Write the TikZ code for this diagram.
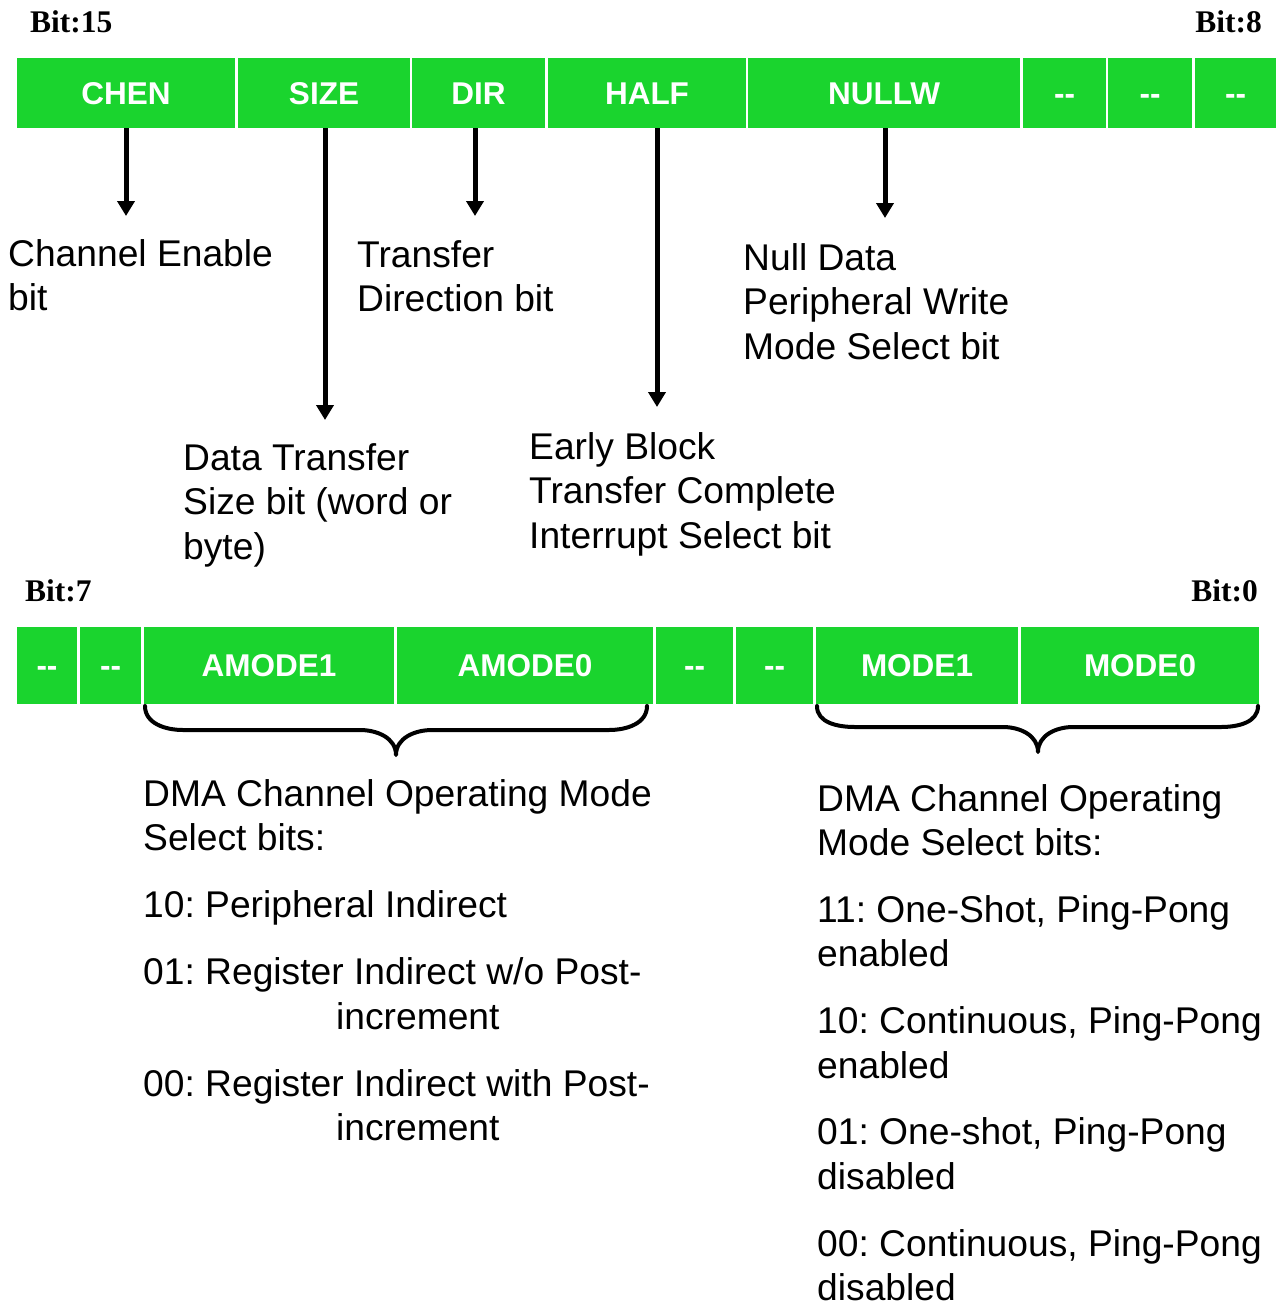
\documentclass[tikz,border=0pt]{standalone}
\usepackage{fontspec}
\setmainfont{Liberation Sans}
\newfontfamily\bitfont{Liberation Serif}
\usetikzlibrary{arrows.meta}
\definecolor{regfill}{RGB}{26,212,46}
\frenchspacing
\newcommand{\unused}{-{}-}
\tikzset{
  cell/.style={fill=regfill, text=white, inner sep=0pt,
    font=\fontsize{31.5}{36}\selectfont\bfseries,
    text height=22.6pt, text depth=0pt},
  toprow/.style={cell, minimum height=70pt},
  botrow/.style={cell, minimum height=77pt},
  bitlbl/.style={inner sep=0pt, font=\fontsize{31.5}{36}\selectfont\bitfont\bfseries},
  desc/.style={inner sep=0pt, anchor=base west, font=\fontsize{37.2}{44.5}\selectfont},
  pointer/.style={line width=5pt, -{Triangle[width=17pt,length=15pt]}},
  brace/.style={line width=4pt, line cap=round, line join=round},
}
\begin{document}
\begin{tikzpicture}[x=1pt,y=-1pt]
\useasboundingbox (0,0) rectangle (1277,1304);

% ---------- bits 15..8 ----------
\node[bitlbl, anchor=base west] (b15) at (30,32) {Bit:15};
\node[bitlbl, anchor=base east] (b8) at (1262,32) {Bit:8};

\node[toprow, minimum width=218pt] (chen)  at (126,93)    {CHEN};
\node[toprow, minimum width=172pt] (size)  at (324,93)    {SIZE};
\node[toprow, minimum width=133pt] (dir)   at (478.5,93)  {DIR};
\node[toprow, minimum width=198pt] (half)  at (647,93)    {HALF};
\node[toprow, minimum width=272pt] (nullw) at (884,93)    {NULLW};
\node[toprow, minimum width=83pt]  (u11)   at (1064.5,93) {\unused};
\node[toprow, minimum width=84pt]  (u10)   at (1150,93)   {\unused};
\node[toprow, minimum width=81pt]  (u9)    at (1235.5,93) {\unused};

% pointers to the bit descriptions
\coordinate (chenEnd)  at (126,216);
\coordinate (sizeEnd)  at (325,420);
\coordinate (dirEnd)   at (475,216);
\coordinate (halfEnd)  at (657,407);
\coordinate (nullwEnd) at (885,218);
\draw[pointer] (chen.south -| chenEnd) -- (chenEnd);
\draw[pointer] (size.south -| sizeEnd) -- (sizeEnd);
\draw[pointer] (dir.south -| dirEnd) -- (dirEnd);
\draw[pointer] (half.south -| halfEnd) -- (halfEnd);
\draw[pointer] (nullw.south -| nullwEnd) -- (nullwEnd);

\node[desc] (chenTxt) at (8,266)
  {\begin{tabular}[t]{@{}l@{}}Channel Enable\\bit\end{tabular}};
\node[desc] (dirTxt) at (357,267)
  {\begin{tabular}[t]{@{}l@{}}Transfer\\Direction bit\end{tabular}};
\node[desc] (nullwTxt) at (743,270)
  {\begin{tabular}[t]{@{}l@{}}Null Data\\Peripheral Write\\Mode Select bit\end{tabular}};
\node[desc] (sizeTxt) at (183,470)
  {\begin{tabular}[t]{@{}l@{}}Data Transfer\\Size bit (word or\\byte)\end{tabular}};
\node[desc] (halfTxt) at (529,459)
  {\begin{tabular}[t]{@{}l@{}}Early Block\\Transfer Complete\\Interrupt Select bit\end{tabular}};

% ---------- bits 7..0 ----------
\node[bitlbl, anchor=base west] (b7) at (25,601) {Bit:7};
\node[bitlbl, anchor=base east] (b0) at (1258,601) {Bit:0};

\node[botrow, minimum width=60pt]  (u7)     at (47,665.5)    {\unused};
\node[botrow, minimum width=61pt]  (u6)     at (110.5,665.5) {\unused};
\node[botrow, minimum width=250pt] (amode1) at (269,665.5)   {AMODE1};
\node[botrow, minimum width=256pt] (amode0) at (525,665.5)   {AMODE0};
\node[botrow, minimum width=77pt]  (u3)     at (694.5,665.5) {\unused};
\node[botrow, minimum width=77pt]  (u2)     at (774.5,665.5) {\unused};
\node[botrow, minimum width=202pt] (mode1)  at (917,665.5)   {MODE1};
\node[botrow, minimum width=238pt] (mode0)  at (1140,665.5)  {MODE0};

% braces under the mode fields
\draw[brace] (145,706) to[out=-90,in=180] (183,730) -- (360,730)
  to[out=0,in=90] (396,755) to[out=90,in=180] (432,730) -- (609,730)
  to[out=0,in=-90] (647,706);
\draw[brace] (817,706) to[out=-90,in=180] (855,727) -- (1003,727)
  to[out=0,in=90] (1038,752) to[out=90,in=180] (1073,727) -- (1221,727)
  to[out=0,in=-90] (1258,706);

\node[desc] (amodeTxt) at (143,806)
  {\begin{tabular}[t]{@{}l@{}}DMA Channel Operating Mode\\Select bits:\\[22.5pt]
   10: Peripheral Indirect\\[22.5pt]
   01: Register Indirect w/o Post-\\\hspace*{193pt}increment\\[22.5pt]
   00: Register Indirect with Post-\\\hspace*{193pt}increment\end{tabular}};
\node[desc] (modeTxt) at (817,811)
  {\begin{tabular}[t]{@{}l@{}}DMA Channel Operating\\Mode Select bits:\\[22.3pt]
   11: One-Shot, Ping-Pong\\enabled\\[22.3pt]
   10: Continuous, Ping-Pong\\enabled\\[22.3pt]
   01: One-shot, Ping-Pong\\disabled\\[22.3pt]
   00: Continuous, Ping-Pong\\disabled\end{tabular}};
\end{tikzpicture}
\end{document}
